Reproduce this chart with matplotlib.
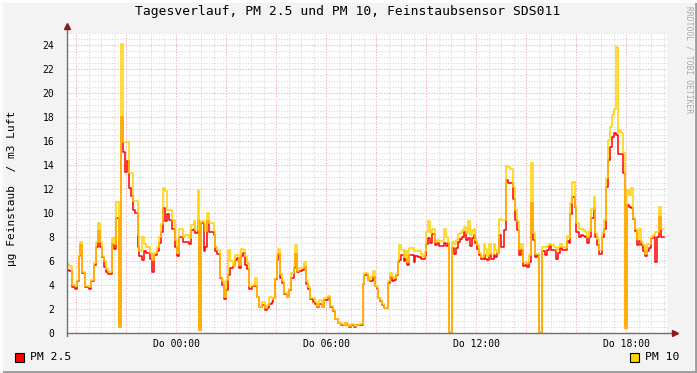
import matplotlib
matplotlib.use('Agg')
import matplotlib.pyplot as plt
from matplotlib.lines import Line2D
from matplotlib.patches import Rectangle
from matplotlib.ticker import FixedLocator, FuncFormatter

# Messzeitpunkte in Minuten relativ zu Do 00:00 (Start jedes Messintervalls)
zeit_min = [
    -262, -257, -250, -242, -238, -233, -230, -226, -218, -209, -204, -197, -192, -187,
    -182, -178, -173, -168, -163, -154, -149, -144, -137, -132, -127, -122, -118, -113,
    -108, -103, -98, -91, -89, -82, -77, -72, -62, -58, -53, -46, -41, -36, -31, -26,
    -22, -17, -10, -2, 2, 7, 17, 22, 31, 36, 43, 46, 53, 55, 60, 67, 70, 74, 79, 91,
    94, 98, 106, 110, 115, 120, 125, 130, 137, 142, 146, 151, 156, 161, 166, 170, 175,
    182, 190, 194, 199, 206, 214, 218, 223, 230, 233, 238, 242, 245, 250, 254, 259, 266,
    271, 276, 283, 286, 290, 295, 302, 307, 312, 317, 322, 329, 334, 338, 343, 350, 355,
    360, 365, 370, 377, 382, 389, 396, 403, 406, 410, 415, 420, 427, 432, 439, 449, 451,
    461, 466, 473, 478, 482, 485, 490, 494, 499, 509, 514, 518, 523, 528, 533, 535, 540,
    547, 550, 554, 559, 571, 574, 581, 588, 593, 598, 600, 605, 610, 614, 622, 626, 631,
    643, 648, 653, 655, 662, 667, 672, 677, 682, 686, 691, 696, 701, 706, 710, 715, 718,
    722, 727, 732, 739, 742, 746, 751, 756, 763, 766, 770, 775, 780, 787, 792, 797, 802,
    809, 814, 818, 823, 828, 833, 838, 842, 847, 852, 857, 862, 866, 871, 878, 886, 890,
    895, 900, 907, 912, 917, 922, 926, 934, 938, 943, 946, 950, 958, 960, 967, 972, 977,
    982, 986, 991, 996, 1003, 1006, 1010, 1015, 1022, 1027, 1032, 1037, 1042, 1046, 1051,
    1056, 1061, 1063, 1068, 1073, 1078, 1082, 1087, 1092, 1097, 1102, 1106, 1111, 1116,
    1121, 1126, 1130, 1135, 1140, 1145, 1150, 1154, 1159, 1164,
]
zeit_ende = 1171

pm10 = [
    5.75, 5.6, 4.0, 3.9, 4.4, 6.5, 7.6, 5.1, 3.9, 3.8, 4.4, 5.8, 7.6, 9.2,
    7.6, 6.4, 6.0, 5.3, 5.1, 7.9, 7.4, 10.9, 0.5, 24.05, 15.9, 15.9, 15.9, 13.3,
    13.3, 11.0, 11.0, 8.2, 6.8, 8.0, 7.4, 7.2, 6.7, 6.1, 6.7, 7.2, 8.0, 9.1, 12.05, 11.8,
    10.25, 10.25, 9.4, 7.75, 6.7, 8.7, 8.0, 8.15, 7.9, 9.0, 9.3, 8.6, 11.9, 0.25, 9.3, 9.2, 8.5, 10.0, 9.2, 8.5,
    7.2, 6.9, 4.7, 4.3, 3.0, 4.4, 6.9, 6.0, 5.6, 6.5, 6.5, 5.7, 7.0, 6.9, 6.4, 5.8, 3.9,
    4.0, 4.6, 3.0, 2.2, 2.6, 2.05, 2.3, 3.0, 2.8, 2.9, 4.6, 6.6, 7.0, 4.9, 4.3, 3.3, 3.0,
    3.7, 5.0, 5.6, 7.3, 5.2, 5.45, 5.45, 5.9, 4.35, 3.85, 2.9, 2.9, 2.6, 2.25, 2.75, 2.2, 2.9,
    2.95, 3.1, 2.25, 1.9, 1.2, 0.85, 0.75, 0.7, 0.85, 0.7, 0.55, 0.75, 0.55, 0.7, 0.75, 4.2, 5.0,
    4.4, 4.7, 5.2, 3.9, 3.8, 2.9, 2.75, 2.4, 2.1, 4.3, 5.0, 4.7, 4.6, 4.95, 6.1, 7.3, 6.9,
    6.35, 6.8, 5.95, 7.1, 6.8, 6.85, 6.8, 6.6, 6.35, 6.8, 8.45, 9.3, 8.3, 8.7, 7.6, 7.75, 7.7,
    8.7, 8.0, 7.6, 0.1, 7.6, 7.45, 7.75, 8.25, 8.35, 8.6, 8.85, 8.3, 9.3, 8.15, 8.6, 8.7, 7.75,
    7.3, 6.7, 6.35, 7.45, 7.0, 6.4, 7.45, 6.6, 7.45, 6.9, 6.7, 9.5, 9.4, 9.4, 13.9, 13.85, 13.7,
    12.2, 10.25, 9.3, 7.0, 7.45, 5.95, 5.8, 5.8, 6.5, 14.2, 8.3, 6.6, 6.6, 0.05, 7.15, 7.15, 7.25,
    7.45, 7.3, 7.15, 6.9, 7.15, 7.45, 7.2, 7.05, 8.1, 7.9, 10.8, 12.55, 10.6, 9.2, 8.7, 8.7, 8.6,
    8.45, 8.0, 8.5, 10.3, 11.35, 8.3, 7.85, 6.9, 8.3, 9.4, 12.9, 16.1, 17.2, 18.2, 18.7,
    23.8, 16.7, 16.9, 16.7, 15.0, 0.4, 11.9, 11.5, 12.05, 9.55, 8.7, 7.85, 8.7, 7.6,
    7.3, 6.6, 7.4, 7.4, 8.0, 8.2, 8.4, 8.4, 10.5, 8.7,
]

pm25 = [
    5.25, 5.2, 3.85, 3.7, 4.3, 6.4, 7.3, 5.0, 3.8, 3.7, 4.3, 5.7, 7.2, 8.5,
    7.2, 6.3, 5.5, 5.1, 4.9, 7.4, 7.0, 9.6, 0.5, 18.0, 15.1, 13.4, 14.3, 12.1,
    11.4, 10.25, 10.0, 7.2, 6.4, 6.1, 6.8, 6.7, 6.2, 5.1, 6.5, 6.8, 7.5, 8.4, 10.4, 9.3,
    9.9, 9.4, 8.7, 7.2, 6.4, 8.0, 7.6, 7.6, 7.4, 8.6, 8.7, 8.3, 9.4, 0.25, 9.2, 6.8, 7.2, 9.3, 8.45, 8.2,
    6.8, 6.6, 4.55, 4.0, 2.8, 3.6, 4.8, 5.45, 5.6, 6.1, 6.25, 5.45, 6.4, 6.7, 5.7, 5.3, 3.7,
    3.9, 3.9, 3.0, 2.2, 2.35, 1.9, 2.1, 2.45, 2.6, 2.9, 4.5, 6.1, 6.6, 4.6, 4.2, 3.25, 3.0,
    3.55, 4.6, 5.4, 6.6, 5.1, 5.2, 5.25, 5.5, 4.1, 3.7, 2.8, 2.6, 2.45, 2.2, 2.45, 2.2, 2.75,
    2.75, 3.0, 2.2, 1.85, 1.15, 0.8, 0.7, 0.65, 0.8, 0.65, 0.5, 0.7, 0.5, 0.65, 0.7, 4.1, 4.8,
    4.4, 4.35, 4.7, 3.9, 3.7, 2.9, 2.7, 2.35, 2.05, 4.15, 4.7, 4.3, 4.4, 4.8, 5.95, 6.1, 6.5,
    6.0, 6.2, 5.7, 6.5, 5.95, 6.4, 6.3, 6.2, 6.2, 6.4, 7.45, 7.9, 7.5, 8.25, 7.3, 7.5, 7.25,
    7.5, 7.25, 7.5, 0.1, 7.05, 6.6, 7.05, 7.6, 7.8, 8.0, 8.4, 7.75, 7.9, 7.25, 7.9, 8.2, 7.5,
    7.0, 6.5, 6.15, 6.5, 6.2, 6.1, 6.5, 6.2, 6.5, 6.35, 6.65, 8.2, 7.2, 8.6, 12.75, 12.5, 12.5,
    11.2, 9.4, 8.6, 6.5, 6.9, 5.6, 5.7, 5.5, 5.95, 10.8, 7.75, 6.35, 6.5, 0.05, 6.8, 6.5, 6.9,
    7.25, 6.9, 6.9, 6.2, 6.65, 7.05, 6.9, 6.9, 7.7, 7.5, 9.9, 11.35, 10.5, 8.4, 8.0, 8.2, 8.1,
    8.0, 7.5, 8.0, 9.55, 10.4, 8.0, 7.3, 6.55, 8.0, 8.7, 12.2, 14.4, 15.5, 16.3, 16.7,
    16.5, 14.9, 14.9, 14.9, 13.3, 0.4, 10.7, 10.5, 10.4, 9.5, 8.5, 7.3, 7.7, 7.3,
    6.8, 6.4, 6.8, 7.05, 7.9, 8.0, 5.95, 8.0, 9.7, 8.0,
]

x_label_ticks = [0, 360, 720, 1080]
x_labels = ['Do 00:00', 'Do 06:00', 'Do 12:00', 'Do 18:00']
y_ticks = list(range(0, 25, 2))

mono = 'DejaVu Sans Mono'
plt.rcParams['font.family'] = mono

fig = plt.figure(figsize=(6.97, 3.73), dpi=100, facecolor='#f3f3f3')
ax = fig.add_axes([67 / 697, 40 / 373, 600 / 697, 300 / 373])
ax.set_facecolor('white')
ax.set_xlim(-262, 1178)
ax.set_ylim(0, 25)

# Gitter: grau fein, rot grob
x_major = list(range(-240, 1178, 120))
x_minor = [m for m in range(-240, 1178, 30) if m not in x_major]
y_minor = [v / 2 for v in range(0, 51) if v % 4 != 0]
ax.xaxis.set_major_locator(FixedLocator(x_major))
ax.xaxis.set_minor_locator(FixedLocator(x_minor))
ax.yaxis.set_major_locator(FixedLocator(y_ticks))
ax.yaxis.set_minor_locator(FixedLocator(y_minor))
ax.grid(which='minor', color='#d8d8d8', lw=0.8, linestyle=(0, (1, 1.5)))
ax.grid(which='major', color='#f0a8a8', lw=0.8, linestyle=(0, (1, 1.5)))
ax.set_axisbelow(True)

lab = dict(zip(x_label_ticks, x_labels))
ax.xaxis.set_major_formatter(FuncFormatter(lambda v, p: lab.get(int(round(v)), '')))
ax.tick_params(which='both', length=0)
ax.tick_params(axis='x', pad=4, labelsize=7)
ax.tick_params(axis='y', pad=9, labelsize=7)
for s in ax.spines.values():
    s.set_visible(False)

t = zeit_min + [zeit_ende]
ax.step(t, pm25 + [pm25[-1]], where='post', color='#ff0000', lw=1.1)
ax.step(t, pm10 + [pm10[-1]], where='post', color='#ffd200', lw=1.1)

# Achsen mit Pfeilen
ax.plot([0, 0], [-0.01, 1.02], transform=ax.transAxes, color='#707070', lw=1, clip_on=False)
ax.plot([0, 1.012], [0, 0], transform=ax.transAxes, color='#707070', lw=1, clip_on=False)
ax.plot([0], [1.022], marker='^', ms=5, color='#8b1a1a', transform=ax.transAxes, clip_on=False)
ax.plot([1.014], [0], marker='>', ms=5, color='#8b1a1a', transform=ax.transAxes, clip_on=False)

fig.text(348 / 697, 1 - 12 / 373, 'Tagesverlauf, PM 2.5 und PM 10, Feinstaubsensor SDS011',
         ha='center', va='center', fontsize=9.4, family=mono)
fig.text(12 / 697, 1 - 188 / 373, 'µg Feinstaub  / m3 Luft', rotation=90,
         ha='center', va='center', fontsize=8, family=mono)
fig.text(689 / 697, 1 - 60 / 373, 'RRDTOOL / TOBI OETIKER', rotation=270,
         ha='center', va='center', fontsize=5.8, color='#a8a8a8', family=mono)

# Legende
fig.add_artist(Rectangle((15 / 697, 1 - 362 / 373), 9 / 697, 9 / 373, transform=fig.transFigure,
                         facecolor='#ff0000', edgecolor='black', lw=0.8))
fig.text(30 / 697, 1 - 357 / 373, 'PM 2.5', ha='left', va='center', fontsize=8.2, family=mono)
fig.add_artist(Rectangle((630 / 697, 1 - 362 / 373), 9 / 697, 9 / 373, transform=fig.transFigure,
                         facecolor='#ffd200', edgecolor='black', lw=0.8))
fig.text(645 / 697, 1 - 357 / 373, 'PM 10', ha='left', va='center', fontsize=8.2, family=mono)

# Rahmen
fig.add_artist(Line2D([0, 1], [0.003, 0.003], transform=fig.transFigure, color='#9c9c9c', lw=2))
fig.add_artist(Line2D([0.998, 0.998], [0, 1], transform=fig.transFigure, color='#9c9c9c', lw=2))
fig.add_artist(Line2D([0, 1], [0.998, 0.998], transform=fig.transFigure, color='#fcfcfc', lw=2))
fig.add_artist(Line2D([0.002, 0.002], [0, 1], transform=fig.transFigure, color='#fcfcfc', lw=2))

fig.savefig('out.png', dpi=100, facecolor=fig.get_facecolor())
